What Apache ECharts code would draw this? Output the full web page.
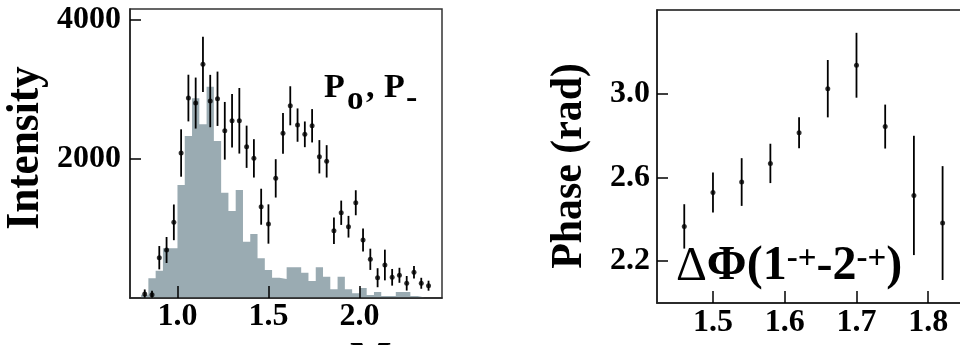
<!DOCTYPE html>
<html><head><meta charset="utf-8">
<script src="https://cdn.jsdelivr.net/npm/echarts@6/dist/echarts.min.js"></script>
<style>html,body{margin:0;padding:0;background:#fff}#c{width:960px;height:345px}</style>
</head><body><div id="c"></div>
<script>
// ---- Left panel: intensity vs mass ----
const massX = [0.82,0.86,0.90,0.94,0.98,1.02,1.06,1.10,1.14,1.18,1.22,1.26,1.30,1.34,1.38,1.42,1.46,1.50,1.54,1.58,1.62,1.66,1.70,1.74,1.78,1.82,1.86,1.90,1.94,1.98,2.02,2.06,2.10,2.14,2.18,2.22,2.26,2.30,2.34,2.38];
const intensity = [58,48,580,691,1089,2087,2878,2806,3363,2835,2868,2407,2551,2551,2177,2010,1314,1065,1722,2370,2767,2489,2356,2479,2033,1967,968,1227,1026,1371,835,557,292,475,298,327,212,370,212,177];
const intensityErr = [65,55,168,187,257,341,336,367,396,377,391,415,384,472,304,276,259,283,276,292,281,240,185,240,240,233,192,175,156,180,165,153,137,221,120,108,105,91,79,72];
// histogram: lower bin edges and contents, closing edge
const histEdges = [0.80,0.84,0.88,0.92,0.96,1.00,1.04,1.08,1.12,1.16,1.20,1.24,1.28,1.32,1.36,1.40,1.44,1.48,1.52,1.56,1.60,1.64,1.68,1.72,1.76,1.80,1.84,1.88,1.92,1.96,2.00,2.04,2.08,2.12,2.16,2.20,2.24,2.28,2.32];
const histValues = [45,283,393,715,715,1626,2331,2874,2500,3041,2259,1515,1252,1554,810,921,571,403,292,273,442,442,364,245,442,306,125,306,125,68,144,43,86,29,29,86,86,29,8];
const histEnd = 2.36;
const leftXTicks = [1.0,1.5,2.0];
const leftYTicks = [2000,4000];

// ---- Right panel: phase difference ----
const phaseX = [1.46,1.50,1.54,1.58,1.62,1.66,1.70,1.74,1.78,1.82];
const phase = [2.366,2.528,2.578,2.667,2.814,3.024,3.136,2.843,2.514,2.382];
const phaseErr = [0.106,0.095,0.114,0.094,0.074,0.137,0.155,0.105,0.285,0.272];
const rightXTicks = [1.5,1.6,1.7,1.8,1.9];
const rightYTicks = [2.2,2.6,3.0];

const FONT = '"Liberation Serif","Times New Roman",serif';
const chart = echarts.init(document.getElementById('c'), null, {renderer:'canvas'});

const histData = histEdges.map((x,i)=>[x,histValues[i]]).concat([[histEnd,0]]);
const ptData = massX.map((x,i)=>[x,intensity[i],intensityErr[i]]);
const phData = phaseX.map((x,i)=>[x,phase[i],phaseErr[i]]);

function errBar(params, api){
  const x=api.value(0), y=api.value(1), e=api.value(2);
  const a=api.coord([x,y+e]), b=api.coord([x,y-e]);
  return {type:'line', shape:{x1:a[0],y1:a[1],x2:b[0],y2:b[1]}, style:{stroke:'#000',lineWidth:1.8}};
}
const tickLabel = {fontFamily:FONT,fontWeight:'bold',fontSize:32,color:'#000'};
const tickStyle = {color:'#000',width:1.5};

function xAx(idx,min,max,ticks,margin){
  return {type:'value',gridIndex:idx,min:min,max:max,z:5,
    axisLine:{show:true,lineStyle:{color:'#222',width:1.5}},splitLine:{show:false},
    axisTick:{show:true,inside:true,length:12,customValues:ticks,lineStyle:tickStyle},
    axisLabel:Object.assign({customValues:ticks,formatter:v=>v.toFixed(1),margin:margin},tickLabel)};
}
function yAx(idx,min,max,ticks,fmt,margin){
  return {type:'value',gridIndex:idx,min:min,max:max,z:5,
    axisLine:{show:true,lineStyle:{color:'#222',width:1.5}},splitLine:{show:false},
    axisTick:{show:true,inside:true,length:11,customValues:ticks,lineStyle:tickStyle},
    axisLabel:Object.assign({customValues:ticks,formatter:fmt,margin:margin},tickLabel)};
}

const option = {
  animation:false,
  backgroundColor:'#fff',
  grid:[
    {left:130,right:518,top:9,bottom:47,show:true,borderColor:'#333',borderWidth:1.5,outerBoundsMode:'none'},
    {left:657,right:-40,top:10,bottom:42,show:true,borderColor:'#111',borderWidth:1.5,outerBoundsMode:'none'}
  ],
  xAxis:[ xAx(0,0.739,2.454,leftXTicks,3), xAx(1,1.422,1.9,rightXTicks,4) ],
  yAxis:[ yAx(0,0,4160,leftYTicks,v=>String(v),9), yAx(1,2.0,3.4,rightYTicks,v=>v.toFixed(1),7) ],
  series:[
    {type:'line',xAxisIndex:0,yAxisIndex:0,step:'end',data:histData,symbol:'none',
     lineStyle:{width:0},areaStyle:{color:'#9aabb2',opacity:1},z:1,silent:true},
    {type:'custom',xAxisIndex:0,yAxisIndex:0,data:ptData,renderItem:errBar,clip:true,z:3},
    {type:'scatter',xAxisIndex:0,yAxisIndex:0,data:ptData,symbolSize:5,itemStyle:{color:'#000'},z:4},
    {type:'custom',xAxisIndex:1,yAxisIndex:1,data:phData,renderItem:errBar,clip:true,z:3},
    {type:'scatter',xAxisIndex:1,yAxisIndex:1,data:phData,symbolSize:5,itemStyle:{color:'#000'},z:4}
  ],
  graphic:[
    {type:'text',x:26,y:148,rotation:Math.PI/2,scaleX:0.94,z:10,
     style:{text:'Intensity',fontFamily:FONT,fontWeight:'bold',fontSize:46,fill:'#000',align:'center',verticalAlign:'middle'}},
    {type:'text',x:569,y:166,rotation:Math.PI/2,scaleX:0.93,z:10,
     style:{text:'Phase (rad)',fontFamily:FONT,fontWeight:'bold',fontSize:45,fill:'#000',align:'center',verticalAlign:'middle'}},
    {type:'text',x:350,y:339,z:10,
     style:{text:'M',fontFamily:FONT,fontWeight:'bold',fontSize:44,fill:'#000',align:'left',verticalAlign:'top'}},
    {type:'text',x:324,y:88,z:10,
     style:{text:'P',fontFamily:FONT,fontWeight:'bold',fontSize:34,fill:'#000',align:'left',verticalAlign:'middle'}},
    {type:'text',x:347,y:100,z:10,
     style:{text:'o',fontFamily:FONT,fontWeight:'bold',fontSize:33,fill:'#000',align:'left',verticalAlign:'middle'}},
    {type:'text',x:366,y:88,z:10,
     style:{text:',',fontFamily:FONT,fontWeight:'bold',fontSize:34,fill:'#000',align:'left',verticalAlign:'middle'}},
    {type:'text',x:384,y:88,z:10,
     style:{text:'P',fontFamily:FONT,fontWeight:'bold',fontSize:34,fill:'#000',align:'left',verticalAlign:'middle'}},
    {type:'text',x:406,y:99,z:10,
     style:{text:'-',fontFamily:FONT,fontWeight:'bold',fontSize:34,fill:'#000',align:'left',verticalAlign:'middle'}},
    {type:'text',x:676,y:267,z:10,
     style:{text:'{d|Δ}{b|Φ(1}{s|-+}{b|-2}{s|-+}{b|)}',align:'left',verticalAlign:'middle',
      rich:{
        d:{fontFamily:FONT,fontSize:48,fontWeight:'normal',lineHeight:48,color:'#000'},
        b:{fontFamily:FONT,fontSize:48,fontWeight:'bold',lineHeight:48,color:'#000'},
        s:{fontFamily:FONT,fontSize:33,fontWeight:'bold',lineHeight:26,verticalAlign:'top',color:'#000'}
      }}}
  ]
};
chart.setOption(option);
</script>
</body></html>
